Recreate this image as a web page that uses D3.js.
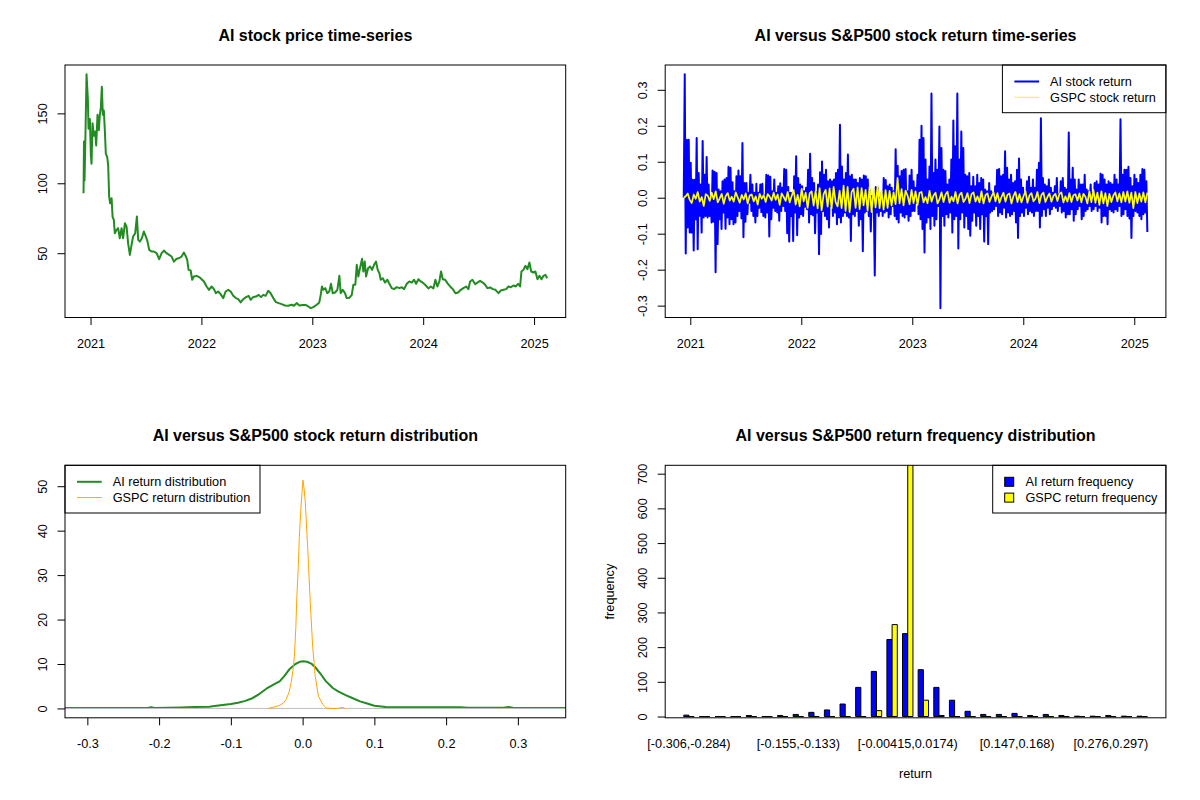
<!DOCTYPE html>
<html>
<head>
<meta charset="utf-8">
<script src="https://cdn.jsdelivr.net/npm/d3@7"></script>
<style>
body { margin: 0; background: #ffffff; }
text { font-family: "Liberation Sans", Arial, sans-serif; }
</style>
</head>
<body>
<script>

// ---------- data ----------

// AI closing price, time in decimal years
var priceTime = [2020.937,2020.941,2020.946,2020.955,2020.964,2020.976,2020.982,2020.994,2021.003,2021.009,
  2021.018,2021.030,2021.042,2021.051,2021.063,2021.075,2021.084,2021.093,2021.102,2021.111,
  2021.120,2021.129,2021.138,2021.150,2021.159,2021.168,2021.177,2021.190,2021.199,2021.210,
  2021.219,2021.235,2021.249,2021.264,2021.280,2021.294,2021.310,2021.325,2021.339,2021.355,
  2021.370,2021.384,2021.403,2021.418,2021.430,2021.445,2021.463,2021.481,2021.499,2021.514,
  2021.529,2021.551,2021.571,2021.596,2021.619,2021.641,2021.662,2021.686,2021.709,2021.731,
  2021.752,2021.776,2021.797,2021.821,2021.842,2021.860,2021.872,2021.884,2021.903,2021.917,
  2021.932,2021.957,2021.980,2022.002,2022.023,2022.047,2022.068,2022.092,2022.113,2022.131,
  2022.152,2022.173,2022.197,2022.218,2022.242,2022.264,2022.287,2022.311,2022.332,2022.354,
  2022.377,2022.402,2022.426,2022.444,2022.467,2022.492,2022.516,2022.537,2022.558,2022.579,
  2022.603,2022.624,2022.648,2022.672,2022.697,2022.724,2022.754,2022.783,2022.814,2022.835,
  2022.859,2022.883,2022.913,2022.943,2022.964,2022.986,2023.009,
  2023.040,2023.063,2023.076,2023.087,2023.099,2023.117,2023.135,2023.153,2023.169,2023.184,
  2023.205,2023.226,2023.244,2023.256,2023.274,2023.295,2023.310,2023.334,2023.356,2023.370,
  2023.388,2023.401,2023.415,2023.430,2023.449,2023.460,2023.473,2023.485,2023.503,2023.521,
  2023.539,2023.557,2023.575,2023.590,2023.605,2023.617,2023.635,2023.656,2023.677,2023.695,
  2023.717,2023.737,2023.762,2023.785,2023.807,2023.828,2023.852,2023.875,2023.897,2023.918,
  2023.936,2023.957,2023.978,2024.002,2024.026,2024.047,2024.069,2024.092,2024.110,2024.128,
  2024.146,2024.161,2024.177,2024.198,2024.218,2024.243,2024.267,2024.291,2024.315,2024.339,
  2024.363,2024.387,2024.408,2024.423,2024.444,2024.468,2024.489,2024.513,2024.538,2024.559,
  2024.579,2024.604,2024.628,2024.652,2024.679,2024.700,2024.724,2024.748,2024.769,2024.791,
  2024.814,2024.836,2024.856,2024.874,2024.886,2024.904,2024.922,2024.940,2024.958,2024.974,
  2024.994,2025.012,2025.031,2025.049,2025.067,2025.085,2025.103,2025.118];

var priceValue = [92.9,129.8,102,138,177.9,160,139,146,120,114,
  143,134,137,127,149,138,149,154,169,149,
  152,138,121,119,113,90.5,85.7,89.3,76,73.8,
  64.3,66.7,67.9,60.7,67.9,60.7,71.4,69,57,48.8,
  56,61.9,64.3,76.2,59.5,58.3,60.7,65.5,61.9,58.3,
  52.4,51.2,51.2,50,45.7,50,51.9,50,48.8,47.6,
  44,46,46.4,47.6,50.5,47.6,45.2,38.1,37.6,31,
  33.3,33.8,32.9,31.4,29.8,26.2,23.8,26.2,24.3,21.4,
  22.6,20.7,17.9,22.6,23.8,22.6,19.5,17.9,17.1,14.8,
  17.1,18.6,19.5,16.7,18.6,19,20.2,18.6,20.2,19.5,
  23.1,21.4,17.9,15,14.3,13.6,12.6,12.4,13.1,12.4,
  14.3,12.6,12.9,12.9,11.9,10.7,11.4,
  13.1,14.8,20.2,26.2,23.8,25,21.4,22.6,28.1,21.4,
  21.9,23.8,33.8,21.4,23.8,21.4,17.9,18.1,20.2,27.4,
  27.4,41.7,33.3,39.3,46,36.9,44,33.3,39.3,40.5,
  38.1,41.7,44,38.1,35.7,31,32.1,29,31,28.1,
  25,24.3,25.7,25,25.7,24.3,28.1,29.8,29,31,
  28.1,31.4,29.8,28.6,26.7,24.8,26.2,24.8,31,26.2,
  29.8,36.9,31.4,31,28.6,26.2,24.3,21.4,21.9,23.8,
  25,26.2,24.3,29.8,31,27.9,29,30.2,29,27.4,
  25,25.5,24.3,23.8,21.4,23.3,23.8,24.3,26.2,25.7,
  26.9,26.2,28.1,26.2,36.9,38.1,41,38.6,43.3,36.9,
  36.2,36.9,31.4,33.8,31.4,33.8,34.5,32.1];

// daily returns, first and last trading day (decimal years)
var retStart = 2020.941, retEnd = 2025.118;

var aiReturn = [0,
  0.343,-0.155,0.161,-0.083,0.161,-0.097,0.097,-0.097,0.050,-0.147,0.050,-0.060,0.166,-0.143,0.069,-0.050,0.037,-0.097,0.158,-0.055,
  0.064,-0.051,0.113,-0.055,0.037,-0.051,0.005,-0.069,0.076,-0.067,0.072,-0.207,0.069,-0.129,0.023,-0.060,0.018,-0.087,0.046,-0.041,
  0.051,-0.086,0.055,-0.055,0.086,-0.074,0.083,-0.060,0.043,-0.074,0.018,-0.069,0.060,-0.051,0.076,-0.037,0.060,-0.058,0.152,-0.110,
  0.041,-0.067,0.041,-0.046,0.014,-0.014,0.064,-0.037,0.037,-0.051,0.014,-0.069,0.039,-0.051,0.014,-0.028,0.037,-0.040,0.039,-0.051,
  0.006,-0.055,0.064,-0.041,0.062,-0.108,0.058,-0.060,0.018,-0.028,0.051,-0.037,0.014,-0.041,0.032,-0.064,0.040,-0.037,0.028,-0.023,
  0.080,-0.037,0.078,-0.099,0.030,-0.122,0.014,-0.051,0.014,-0.120,0.060,-0.041,0.115,-0.104,0.055,-0.055,0.037,-0.046,0.032,-0.051,
  0.018,-0.025,0.028,-0.032,0.078,-0.069,0.122,-0.046,0.055,-0.049,0.041,-0.099,0.016,-0.041,0.037,-0.157,0.071,-0.101,0.101,-0.037,
  0.064,-0.051,0.078,-0.060,0.046,-0.083,0.051,-0.023,0.046,-0.051,0.051,-0.041,0.069,-0.074,0.078,-0.055,0.203,-0.069,0.087,-0.051,
  0.051,-0.041,0.069,-0.051,0.120,-0.055,0.060,-0.120,0.064,-0.046,0.051,-0.051,0.051,-0.037,0.041,-0.078,0.055,-0.060,0.051,-0.149,
  0.062,-0.041,0.060,-0.037,0.051,-0.051,0.021,-0.094,0.005,-0.032,0.000,-0.216,0.030,-0.041,0.028,-0.051,0.000,-0.037,0.014,-0.051,
  0.055,-0.041,0.049,-0.037,0.032,-0.055,0.037,-0.046,0.028,-0.023,0.018,-0.051,0.135,-0.060,0.089,-0.069,0.060,-0.041,0.074,-0.051,
  0.078,-0.055,0.080,-0.046,0.018,-0.064,0.062,-0.051,0.078,-0.037,0.046,-0.037,
  0.028,-0.014,0.064,-0.046,0.161,-0.060,0.200,-0.087,0.166,-0.152,0.106,-0.069,0.051,-0.055,0.087,-0.087,0.290,-0.051,0.069,-0.078,
  0.106,-0.060,0.078,-0.023,0.198,-0.307,0.138,-0.051,0.078,-0.078,0.074,-0.046,0.037,-0.055,0.051,-0.041,0.106,-0.097,0.215,-0.060,
  0.143,-0.051,0.290,-0.141,0.106,-0.060,0.184,-0.041,0.138,-0.083,0.064,-0.051,0.060,-0.087,0.069,-0.106,0.032,-0.064,0.058,-0.041,
  0.032,-0.078,0.064,-0.051,0.041,-0.087,0.055,-0.046,0.051,-0.122,0.023,-0.051,0.018,-0.129,0.041,-0.041,0.018,-0.037,0.014,-0.032,
  0.032,-0.023,0.078,-0.051,0.080,-0.041,0.060,-0.046,0.064,-0.028,0.129,-0.055,0.083,-0.041,0.051,-0.051,0.064,-0.046,0.041,-0.037,
  0.046,-0.069,0.078,-0.112,0.109,-0.051,0.051,-0.041,0.028,-0.051,0.014,-0.028,0.046,-0.046,0.058,-0.037,0.028,-0.041,0.051,-0.051,
  0.028,-0.037,0.078,-0.037,0.097,-0.083,0.221,-0.051,0.055,-0.032,0.037,-0.051,0.032,-0.028,0.051,-0.046,0.028,-0.032,0.014,-0.023,
  0.032,-0.028,0.055,-0.037,0.009,-0.023,0.046,-0.041,0.055,-0.037,0.028,-0.055,0.023,-0.046,0.181,-0.046,0.051,-0.032,0.083,-0.064,
  0.051,-0.046,0.023,-0.032,0.051,-0.023,0.037,-0.060,0.037,-0.051,0.064,-0.037,0.023,-0.032,0.018,-0.023,0.037,-0.037,0.014,-0.032,
  0.041,-0.023,0.046,-0.037,0.037,-0.028,0.067,-0.069,0.064,-0.051,0.051,-0.051,0.037,-0.074,0.046,-0.032,0.041,-0.037,0.037,-0.041,
  0.064,-0.032,0.051,-0.037,0.037,-0.023,0.218,-0.051,0.064,-0.046,0.078,-0.032,0.078,-0.051,0.086,-0.058,0.055,-0.112,0.032,-0.051,
  0.064,-0.037,0.052,-0.041,0.041,-0.051,0.064,-0.060,0.080,-0.046,0.078,-0.041,0.046,-0.095];

var gspcReturn = [0,
  0.004,0.012,-0.006,-0.015,0.009,-0.003,0.016,-0.011,0.002,-0.023,
  0.010,0.006,-0.009,0.014,-0.004,0.018,-0.013,-0.002,0.011,-0.017,
  0.005,0.013,-0.008,0.003,-0.011,0.015,0.001,-0.014,0.008,-0.005,
  0.012,-0.016,0.006,0.009,-0.010,0.004,-0.019,0.011,-0.003,0.007,
  -0.012,0.010,0.003,-0.008,0.014,-0.006,0.009,-0.020,0.012,0.002,-0.009,
  0.016,-0.013,0.005,0.021,-0.019,0.008,-0.024,0.025,-0.010,0.014,
  -0.028,0.012,0.018,-0.022,0.019,-0.030,0.027,-0.035,0.010,0.022,
  -0.025,0.026,-0.030,0.030,-0.012,-0.024,0.020,-0.029,0.034,-0.037,
  0.030,-0.040,0.016,0.025,-0.028,0.029,-0.032,0.027,-0.021,0.022,
  -0.036,0.031,-0.040,0.024,-0.027,0.033,-0.029,0.020,-0.033,0.021,
  -0.028,0.019,-0.022,0.015,
  -0.018,0.055,-0.016,0.024,-0.021,0.020,0.006,-0.018,0.022,-0.015,0.018,
  -0.020,0.014,0.016,-0.013,0.002,-0.015,0.019,-0.011,0.006,0.014,
  -0.016,-0.004,0.015,-0.012,0.009,0.017,-0.014,0.003,-0.010,0.016,
  -0.016,0.008,0.014,-0.012,-0.003,0.013,-0.015,0.010,0.015,-0.011,
  0.004,-0.013,0.018,-0.016,0.007,0.012,-0.012,0.003,0.016,-0.010,
  0.013,-0.014,0.002,0.014,-0.011,0.008,0.012,-0.016,0.005,0.016,
  -0.012,0.010,-0.013,0.004,0.018,-0.014,0.006,0.013,-0.010,-0.003,
  0.016,-0.015,0.008,0.014,-0.012,0.002,0.012,-0.011,0.005,0.011,
  -0.009,0.010,0.015,-0.013,0.004,-0.011,0.013,-0.012,0.007,0.010,
  -0.008,0.012,-0.013,0.011,0.003,-0.016,0.018,-0.012,0.022,-0.014,
  0.014,-0.020,0.018,-0.016,0.013,-0.023,0.011,-0.012,0.006,0.015,
  -0.010,0.012,-0.013,0.016,-0.011,0.018,-0.014,0.014,-0.029,0.016,
  -0.015,0.012,-0.011,0.015,-0.013,0.014];

// kernel density curves
var aiDensX = [-0.336,-0.25,-0.216,-0.211,-0.206,-0.17,-0.15,-0.13,-0.12,-0.1,
  -0.09,-0.08,-0.07,-0.06,-0.05,-0.04,-0.032,-0.025,-0.018,-0.01,
  -0.004,0.001,0.006,0.012,0.018,0.025,0.032,0.042,0.05,0.06,
  0.07,0.08,0.09,0.1,0.116,0.13,0.22,0.23,0.28,0.287,0.293,0.3,0.372];
var aiDensY = [0.1,0.1,0.1,0.3,0.1,0.2,0.3,0.4,0.6,1.0,
  1.3,1.7,2.3,3.3,4.5,5.4,6.1,7.4,8.9,10.0,
  10.5,10.6,10.5,10.1,9.2,7.8,6.2,4.6,3.8,3.0,
  2.3,1.6,1.1,0.6,0.3,0.25,0.25,0.15,0.15,0.35,0.15,0.1,0.1];
var gspcDensX = [-0.048,-0.04,-0.032,-0.027,-0.023,-0.019,-0.016,-0.0135,-0.0115,-0.0095,
  -0.008,-0.006,-0.0046,-0.002,0.0005,0.002,0.0038,0.007,0.0107,0.014,
  0.0176,0.022,0.028,0.033,0.04,0.05,0.053,0.056,0.059];
var gspcDensY = [0,0.3,0.7,1.2,2.0,3.6,5.8,8.5,11.7,18,
  25.2,32,38.7,46,51.4,49.5,46.2,36.4,23.7,14.0,
  7.2,2.8,0.9,0.1,0,0,0.2,0.2,0];
var aiReturnRange = [-0.3053, 0.3408];   // xlim of the density plot
var densYLim = [0, 52.6];

// return frequency by bin (30 bins)
var histAI = [4,0,0,0,3,0,3,6,12,19,36,84,130,222,239,135,84,47,15,6,6,9,3,6,3,1,1,3,1,1];
var histGSPC = [0,0,0,0,0,0,0,0,0,0,0,0,17,265,740,47,3,0,0,0,0,0,0,0,0,0,0,0,0,0];
var histLabelIdx = [0, 7, 14, 21, 27];
var histLabels = ["[-0.306,-0.284)", "[-0.155,-0.133)", "[-0.00415,0.0174)", "[0.147,0.168)", "[0.276,0.297)"];
var histYRange = [-3.7, 724.2];

// tick values
var yearTicks = [2021, 2022, 2023, 2024, 2025];
var priceTicks = [50, 100, 150];
var returnTicks = [-0.3, -0.2, -0.1, 0, 0.1, 0.2, 0.3];
var densXTicks = [-0.3, -0.2, -0.1, 0, 0.1, 0.2, 0.3];
var densYTicks = [0, 10, 20, 30, 40, 50];
var freqTicks = [0, 100, 200, 300, 400, 500, 600, 700];

// ---------- layout ----------

var cols = [65, 665.2], rows = [65, 465.3];
var plotW = 500.7, plotH = 252.5;
var tickLen = 7.5;
var font = "Liberation Sans, Arial, sans-serif";
var fontSize = "12.7px", titleSize = "16px";

var svg = d3.select("body").append("svg")
  .attr("width", 1200)
  .attr("height", 800)
  .style("background", "#ffffff");

// R style axis range: data range padded 4% each side
function rRange(ext) {
  var p = (ext[1] - ext[0]) * 0.04;
  return [ext[0] - p, ext[1] + p];
}

//create panel group with a clip rect and a title
function makePanel(col, row, title) {
  var g = svg.append("g")
    .attr("transform", "translate(" + cols[col] + "," + rows[row] + ")");
  var id = "clip-" + col + "-" + row;
  g.append("clipPath").attr("id", id)
    .append("rect").attr("width", plotW).attr("height", plotH);
  g.append("text")
    .attr("x", plotW / 2)
    .attr("y", -24.5)
    .attr("text-anchor", "middle")
    .attr("font-family", font)
    .attr("font-weight", "bold")
    .style("font-size", titleSize)
    .text(title);
  return {g: g, clip: "url(#" + id + ")"};
}

function xAxis(g, scale, ticks, fmt) {
  var ax = g.append("g")
    .attr("transform", "translate(0," + plotH + ")")
    .call(d3.axisBottom(scale).tickValues(ticks).tickFormat(fmt).tickSize(tickLen).tickSizeOuter(0));
  ax.select(".domain").remove();
  ax.selectAll("text")
    .attr("y", 21)
    .attr("dy", "0.71em")
    .attr("font-family", font)
    .style("font-size", fontSize)
    .attr("fill", "black");
  ax.selectAll("line").attr("stroke", "black");
}

function yAxis(g, scale, ticks, fmt) {
  var ax = g.append("g")
    .call(d3.axisLeft(scale).tickValues(ticks).tickFormat(fmt).tickSize(tickLen).tickSizeOuter(0));
  ax.select(".domain").remove();
  ax.selectAll("text")
    .attr("x", 0)
    .attr("y", -18.2)
    .attr("dy", null)
    .attr("transform", "rotate(-90)")
    .attr("text-anchor", "middle")
    .attr("font-family", font)
    .style("font-size", fontSize)
    .attr("fill", "black");
  ax.selectAll("line").attr("stroke", "black");
}

function drawBox(g) {
  g.append("rect")
    .attr("width", plotW)
    .attr("height", plotH)
    .attr("fill", "none")
    .attr("stroke", "black")
    .attr("stroke-width", 1);
}

//legend box with line or fill keys
function legend(g, x, w, items, kind) {
  var lg = g.append("g").attr("transform", "translate(" + x + ",0)");
  lg.append("rect")
    .attr("width", w).attr("height", 47.7)
    .attr("fill", "white").attr("stroke", "black");
  items.forEach(function(it, i) {
    var cy = 16.5 + i * 15.8;
    if (kind == "line") {
      lg.append("line")
        .attr("x1", 12).attr("x2", 36.7)
        .attr("y1", cy).attr("y2", cy)
        .attr("stroke", it.color).attr("stroke-width", it.width);
    } else {
      lg.append("rect")
        .attr("x", 12).attr("y", cy - 4.5)
        .attr("width", 9).attr("height", 9)
        .attr("fill", it.color).attr("stroke", "black");
    }
    lg.append("text")
      .attr("x", kind == "line" ? 47.7 : 32.8)
      .attr("y", cy)
      .attr("dy", "0.35em")
      .attr("font-family", font)
      .style("font-size", fontSize)
      .text(it.label);
  });
}

var oneDec = function(d) { return d.toFixed(1); };

// ---------- panel 1: price ----------
var p1 = makePanel(0, 0, "AI stock price time-series");
var x1 = d3.scaleLinear().domain(rRange(d3.extent(priceTime))).range([0, plotW]);
var y1 = d3.scaleLinear().domain(rRange(d3.extent(priceValue))).range([plotH, 0]);

var priceLine = d3.line()
  .x(function(d, i) { return x1(priceTime[i]); })
  .y(function(d) { return y1(d); });

p1.g.append("path")
  .datum(priceValue)
  .attr("clip-path", p1.clip)
  .attr("d", priceLine)
  .attr("fill", "none")
  .attr("stroke", "#228B22")
  .attr("stroke-width", 2)
  .attr("stroke-linejoin", "round");

xAxis(p1.g, x1, yearTicks, d3.format("d"));
yAxis(p1.g, y1, priceTicks, d3.format("d"));
drawBox(p1.g);

// ---------- panel 2: returns ----------
var p2 = makePanel(1, 0, "AI versus S&P500 stock return time-series");
var x2 = d3.scaleLinear().domain(rRange([retStart, retEnd])).range([0, plotW]);
var y2 = d3.scaleLinear().domain(rRange(d3.extent(aiReturn))).range([plotH, 0]);

function returnLine(arr) {
  var step = (retEnd - retStart) / (arr.length - 1);
  return d3.line()
    .x(function(d, i) { return x2(retStart + i * step); })
    .y(function(d) { return y2(d); });
}

p2.g.append("path")
  .datum(aiReturn)
  .attr("clip-path", p2.clip)
  .attr("d", returnLine(aiReturn))
  .attr("fill", "none")
  .attr("stroke", "#0000FF")
  .attr("stroke-width", 2)
  .attr("stroke-linejoin", "round");

p2.g.append("path")
  .datum(gspcReturn)
  .attr("clip-path", p2.clip)
  .attr("d", returnLine(gspcReturn))
  .attr("fill", "none")
  .attr("stroke", "#FFFF00")
  .attr("stroke-width", 1.7)
  .attr("stroke-linejoin", "round");

xAxis(p2.g, x2, yearTicks, d3.format("d"));
yAxis(p2.g, y2, returnTicks, oneDec);
legend(p2.g, 337.2, plotW - 337.2, [
  {label: "AI stock return", color: "#0000FF", width: 2},
  {label: "GSPC stock return", color: "#FFFF00", width: 1}], "line");
drawBox(p2.g);

// ---------- panel 3: density ----------
var p3 = makePanel(0, 1, "AI versus S&P500 stock return distribution");
var x3 = d3.scaleLinear().domain(rRange(aiReturnRange)).range([0, plotW]);
var y3 = d3.scaleLinear().domain(rRange(densYLim)).range([plotH, 0]);

function densLine(xs) {
  return d3.line()
    .x(function(d, i) { return x3(xs[i]); })
    .y(function(d) { return y3(d); });
}

p3.g.append("path")
  .datum(aiDensY)
  .attr("clip-path", p3.clip)
  .attr("d", densLine(aiDensX))
  .attr("fill", "none")
  .attr("stroke", "#228B22")
  .attr("stroke-width", 2)
  .attr("stroke-linejoin", "round");

// zero line
p3.g.append("line")
  .attr("x1", 0).attr("x2", plotW)
  .attr("y1", y3(0)).attr("y2", y3(0))
  .attr("stroke", "#BEBEBE")
  .attr("stroke-width", 1);

p3.g.append("path")
  .datum(gspcDensY)
  .attr("clip-path", p3.clip)
  .attr("d", densLine(gspcDensX))
  .attr("fill", "none")
  .attr("stroke", "#FFA500")
  .attr("stroke-width", 1);

xAxis(p3.g, x3, densXTicks, oneDec);
yAxis(p3.g, y3, densYTicks, d3.format("d"));
legend(p3.g, 0, 195, [
  {label: "AI return distribution", color: "#228B22", width: 2},
  {label: "GSPC return distribution", color: "#FFA500", width: 1}], "line");
drawBox(p3.g);

// ---------- panel 4: frequency bars ----------
var p4 = makePanel(1, 1, "AI versus S&P500 return frequency distribution");
// barplot units: each bin = gap of 1 + two bars of width 1
var x4 = d3.scaleLinear().domain(rRange([1, histAI.length * 3])).range([0, plotW]);
var y4 = d3.scaleLinear().domain(histYRange).range([plotH, 0]);

function barPath(u, v) {
  return "M" + x4(u) + "," + y4(0) + "H" + x4(u + 1) + "V" + y4(v) + "H" + x4(u) + "Z";
}

var bars = p4.g.append("g").attr("clip-path", p4.clip);
histAI.forEach(function(v, k) {
  bars.append("path")
    .attr("d", barPath(1 + 3 * k, v))
    .attr("fill", "#0000FF")
    .attr("stroke", "black")
    .attr("stroke-width", 1);
  bars.append("path")
    .attr("d", barPath(2 + 3 * k, histGSPC[k]))
    .attr("fill", "#FFFF00")
    .attr("stroke", "black")
    .attr("stroke-width", 1);
});

// bin names under the bars
histLabelIdx.forEach(function(k, i) {
  p4.g.append("text")
    .attr("x", x4(2 + 3 * k))
    .attr("y", 282.5)
    .attr("text-anchor", "middle")
    .attr("font-family", font)
    .style("font-size", fontSize)
    .text(histLabels[i]);
});

yAxis(p4.g, y4, freqTicks, d3.format("d"));

// axis titles
p4.g.append("text")
  .attr("x", plotW / 2)
  .attr("y", 312.7)
  .attr("text-anchor", "middle")
  .attr("font-family", font)
  .style("font-size", fontSize)
  .text("return");

p4.g.append("text")
  .attr("transform", "translate(-51.5," + (plotH / 2) + ") rotate(-90)")
  .attr("text-anchor", "middle")
  .attr("font-family", font)
  .style("font-size", fontSize)
  .text("frequency");

legend(p4.g, 327.5, plotW - 327.5, [
  {label: "AI return frequency", color: "#0000FF"},
  {label: "GSPC return frequency", color: "#FFFF00"}], "fill");
drawBox(p4.g);

</script>
</body>
</html>
